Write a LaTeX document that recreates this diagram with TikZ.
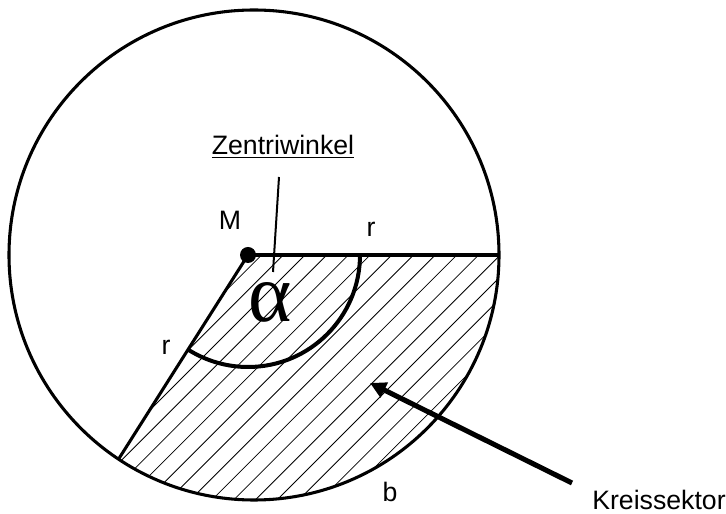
\documentclass[tikz,border=0pt]{standalone}
\usepackage{fontspec}
\setmainfont{Liberation Sans}
\newfontfamily\alphafont{Liberation Serif}
\usetikzlibrary{arrows.meta,calc}

\begin{document}
\begin{tikzpicture}[
    x=0.75pt, y=0.75pt,
    font=\fontsize{20}{24}\selectfont,
    rim/.style={line width=2.3pt},
    rad/.style={line width=2.3pt},
    hatch/.style={line width=0.6pt},
    anglearc/.style={line width=3pt},
    pointer/.style={line width=1.5pt},
    lbl/.style={anchor=base, inner sep=0pt},
    bigarr/.style={-{Triangle[length=12pt,width=12pt]}, line width=3.8pt}
]

% ---- circle centre, radius, end angle of the sector ----
\def\R{245}
\def\aEnd{-123.56}
\def\rArc{112}

\useasboundingbox (0,0) rectangle (726,514);

\coordinate (C)  at (254,259);
\coordinate (M)  at (248,259);
\coordinate (P1) at (499,259);
\coordinate (P2) at ($(C)+(\aEnd:\R)$);

% ===== HATCHED SECTOR =====
\begin{scope}
  \clip (M) -- (P1) arc[start angle=0, end angle=\aEnd, radius=\R] -- cycle;
  \foreach \k in {-4,...,16}
    \draw[hatch] ({46+21.7*\k},0) -- ++(600,600);
\end{scope}

% ===== CIRCLE AND RADII =====
\draw[rim] (C) circle[radius=\R];
\draw[rad] (M) -- (P1);
\draw[rad] (M) -- (P2);
\draw[anglearc] ($(M)+(\rArc,0)$) arc[start angle=0, end angle=-122.36, radius=\rArc];
\fill (M) circle[radius=8];

% ===== LABELS =====
\node[lbl] (zw)    at (283,359) {\underline{Zentriwinkel}};
\node[lbl] (mlbl)  at (230,284) {M};
\node[lbl] (rtop)  at (371,277) {r};
\node[lbl] (rleft) at (166,159) {r};
\node[lbl] (blbl)  at (390,12)  {b};
\node[lbl] (ks)    at (659,4)   {Kreissektor};
\node[lbl, font=\alphafont\fontsize{62}{62}\selectfont] (alpha) at (270,192) {α};

% pointers
\coordinate (zwTop)  at (279,337);
\coordinate (zwEnd)  at (273,242);
\draw[pointer] (zwTop) -- (zwEnd);

\coordinate (arrTail) at (572,31);
\coordinate (arrTip)  at (370,131);
\draw[bigarr] (arrTail) -- (arrTip);

\end{tikzpicture}
\end{document}
